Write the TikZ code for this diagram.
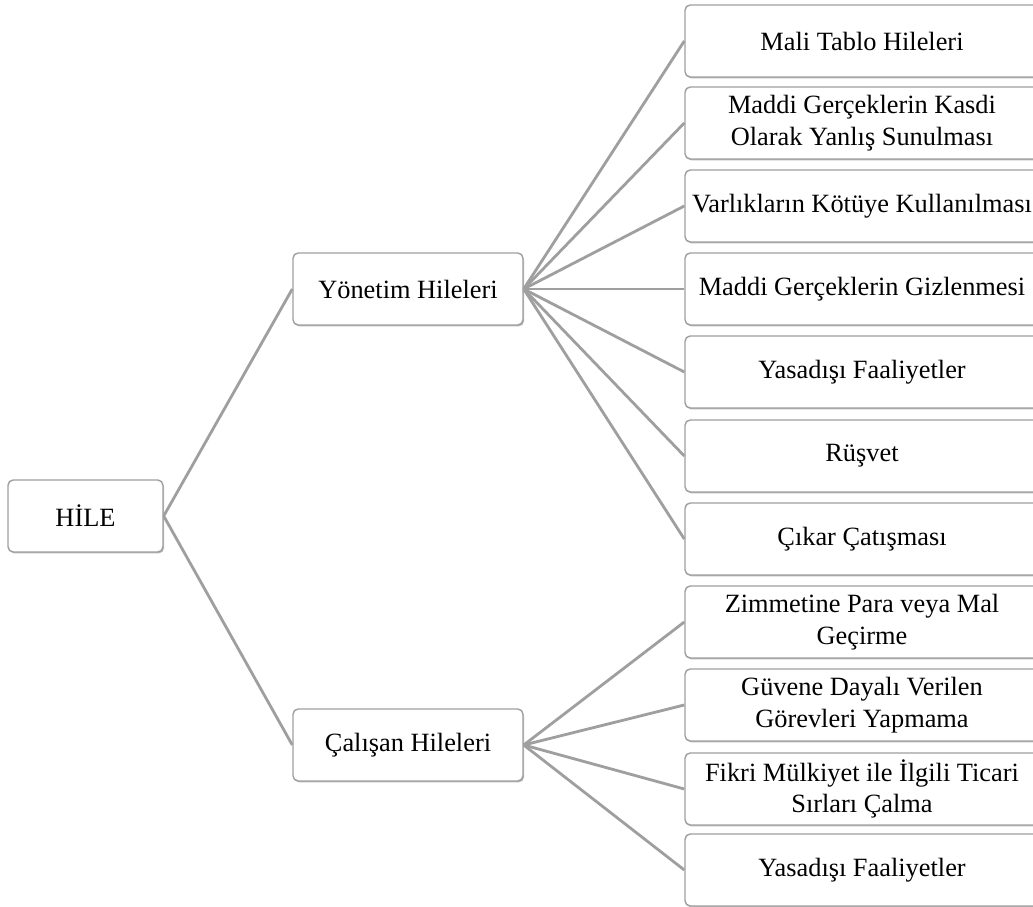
\documentclass[tikz,border=0pt]{standalone}
\usepackage{fontspec}
\setmainfont{Liberation Serif}
\usepackage{tikz}
\usetikzlibrary{shadows}

\begin{document}
\begin{tikzpicture}[
  box/.style={draw=gray!75,fill=white,rounded corners=3pt,line width=0.8pt,
    drop shadow={shadow xshift=0.6pt,shadow yshift=-0.8pt,fill=gray!70,opacity=0.8},
    minimum height=1.44cm,align=center,
    font=\fontsize{15}{18}\selectfont},
  leaf/.style={box,minimum width=7.08cm},
  mid/.style={box,minimum width=4.6cm},
  link/.style={gray!75,line width=1.6pt}
]
\useasboundingbox (0,0) rectangle (20.66,-18.14);
\node[box,minimum width=3.1cm] (hile) at (1.71,-10.32) {HİLE};
\node[mid] (yon) at (8.16,-5.78) {Yönetim Hileleri};
\node[mid] (cal) at (8.16,-14.9) {Çalışan Hileleri};
\node[leaf] (y1) at (17.24,-0.82) {Mali Tablo Hileleri};
\node[leaf] (y2) at (17.24,-2.46) {Maddi Gerçeklerin Kasdi\\Olarak Yanlış Sunulması};
\node[leaf] (y3) at (17.24,-4.12) {Varlıkların Kötüye Kullanılması};
\node[leaf] (y4) at (17.24,-5.78) {Maddi Gerçeklerin Gizlenmesi};
\node[leaf] (y5) at (17.24,-7.44) {Yasadışı Faaliyetler};
\node[leaf] (y6) at (17.24,-9.12) {Rüşvet};
\node[leaf] (y7) at (17.24,-10.78) {Çıkar Çatışması};
\node[leaf] (c1) at (17.24,-12.44) {Zimmetine Para veya Mal\\Geçirme};
\node[leaf] (c2) at (17.24,-14.10) {Güvene Dayalı Verilen\\Görevleri Yapmama};
\node[leaf] (c3) at (17.24,-15.78) {Fikri Mülkiyet ile İlgili Ticari\\Sırları Çalma};
\node[leaf] (c4) at (17.24,-17.40) {Yasadışı Faaliyetler};
\foreach \x in {yon,cal}
  \draw[link] (hile.east) -- (\x.west);
\foreach \x in {y1,y2,y3,y4,y5,y6,y7}
  \draw[link] (yon.east) -- (\x.west);
\foreach \x in {c1,c2,c3,c4}
  \draw[link] (cal.east) -- (\x.west);
\end{tikzpicture}
\end{document}
